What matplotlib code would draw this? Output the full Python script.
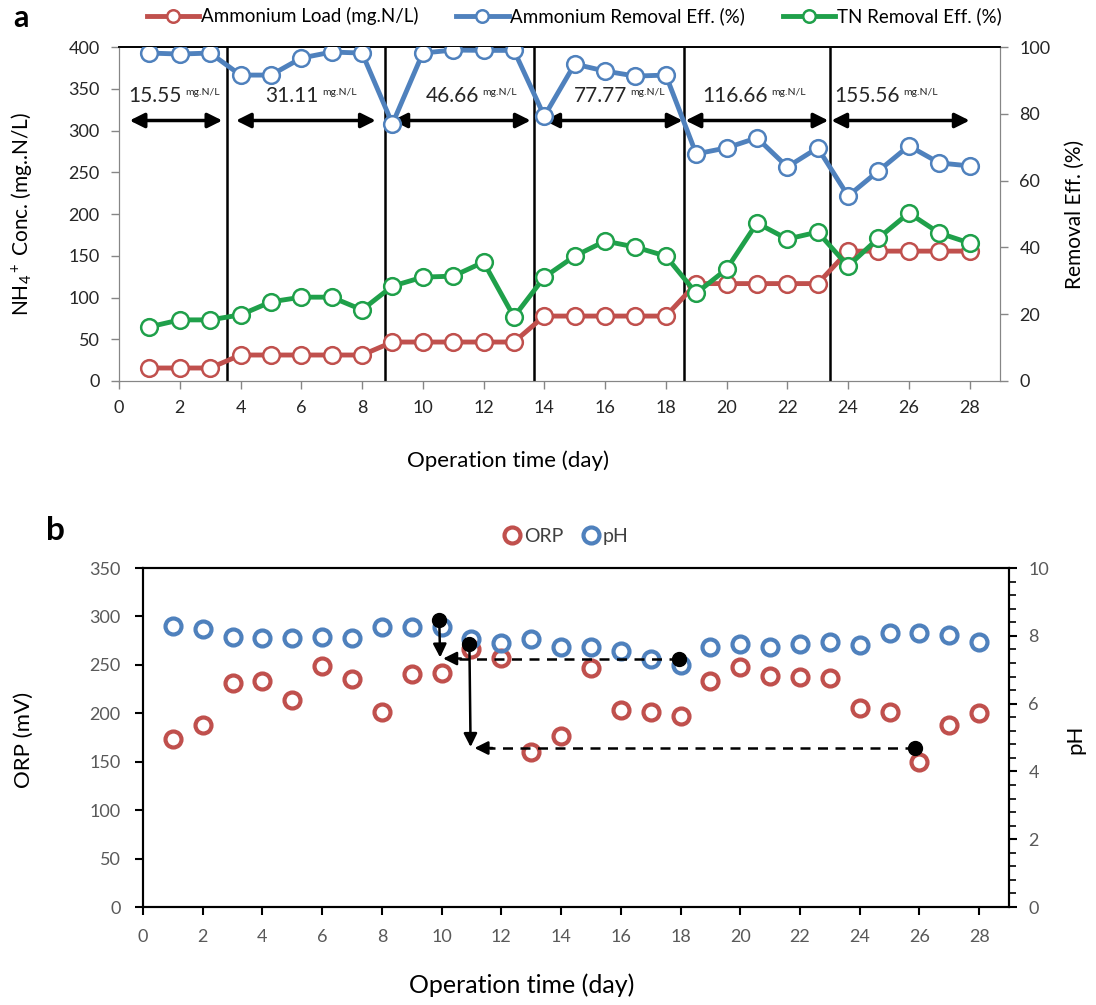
import matplotlib
matplotlib.use("Agg")
import matplotlib.pyplot as plt
from matplotlib.lines import Line2D
from matplotlib.ticker import MultipleLocator

plt.rcParams['font.family'] = ['Lato', 'DejaVu Sans']
plt.rcParams['mathtext.fontset'] = 'custom'
plt.rcParams['mathtext.rm'] = 'Lato'
plt.rcParams['mathtext.it'] = 'Lato:italic'

NARROW = ['Liberation Sans Narrow', 'Lato', 'DejaVu Sans']

# Panel a data
days = list(range(1, 29))
nh4_load = [15.55, 15.55, 15.55,
            31.11, 31.11, 31.11, 31.11, 31.11,
            46.66, 46.66, 46.66, 46.66, 46.66,
            77.77, 77.77, 77.77, 77.77, 77.77,
            116.66, 116.66, 116.66, 116.66, 116.66,
            155.56, 155.56, 155.56, 155.56, 155.56]
nh4_removal = [98.2, 97.9, 98.2, 91.6, 91.6, 96.7, 98.5, 98.2, 77.0, 98.2,
               99.1, 99.0, 99.0, 79.3, 94.9, 92.8, 91.3, 91.6, 68.0, 69.8,
               72.8, 64.1, 69.8, 55.4, 62.9, 70.4, 65.3, 64.4]
tn_removal = [16.2, 18.3, 18.3, 19.8, 23.7, 25.1, 25.1, 21.3, 28.4, 31.1,
              31.4, 35.6, 19.2, 31.1, 37.4, 41.9, 40.1, 37.4, 26.3, 33.5,
              47.3, 42.5, 44.6, 34.4, 42.8, 50.3, 44.3, 41.3]

phase_bounds = [3.55, 8.75, 13.65, 18.6, 23.4]
phase_arrows = [(0.35, 3.4), (3.85, 8.45), (9.0, 13.55), (14.0, 18.55), (18.65, 23.35), (23.45, 28.0)]
phase_labels = ['15.55', '31.11', '46.66', '77.77', '116.66', '155.56']
phase_label_x = [2.07, 6.56, 11.84, 16.72, 21.34, 25.7]

# Panel b data
orp = [173, 188, 231, 233, 214, 249, 235, 201, 241, 242,
       266, 257, 160, 177, 247, 203, 201, 197, 233, 248,
       239, 237, 236, 205, 201, 150, 188, 200]
ph = [8.29, 8.20, 7.96, 7.93, 7.93, 7.96, 7.93, 8.26, 8.26, 8.27,
      7.90, 7.78, 7.91, 7.67, 7.67, 7.55, 7.31, 7.14, 7.66, 7.76,
      7.66, 7.76, 7.82, 7.72, 8.08, 8.08, 8.03, 7.82]

# (start day, start pH) -> (end day, end pH) for the arrows in panel b
drop_arrows = [((9.92, 8.47), (9.95, 7.36)), ((10.93, 7.76), (10.97, 4.72))]
dash_arrows = [((17.95, 7.33), (10.05, 7.33)), ((25.86, 4.69), (11.1, 4.69))]

RED = '#C0504D'
BLUE = '#4F81BD'
GREEN = '#1FA04A'
GRAY = '#868686'

fig = plt.figure(figsize=(10.96, 10.05), dpi=100)

# ---------------- panel a ----------------
axa = fig.add_axes([0.1086, 0.6209, 0.8038, 0.3323])
axr = axa.twinx()

axa.set_xlim(0, 29)
axa.set_ylim(0, 400)
axr.set_ylim(0, 100)
axa.set_xticks(range(0, 29, 2))
axa.set_yticks(range(0, 401, 50))
axr.set_yticks(range(0, 101, 20))

for ax in (axa, axr):
    for side in ('left', 'bottom', 'right'):
        ax.spines[side].set_color(GRAY)
    ax.spines['top'].set_color('black')
    ax.spines['top'].set_linewidth(1.2)
axa.tick_params(axis='both', labelsize=13, colors=GRAY, labelcolor='#262626', length=6, width=1, pad=8)
axr.tick_params(axis='y', labelsize=13, colors=GRAY, labelcolor='#262626', length=6, width=1, pad=8)

axa.vlines(phase_bounds, 0, 400, color='black', lw=1.8, zorder=3)
for (x0, x1) in phase_arrows:
    axa.annotate('', xy=(x1, 312), xytext=(x0, 312),
                 arrowprops=dict(arrowstyle='<|-|>', color='black', lw=2.5,
                                 mutation_scale=22, shrinkA=0, shrinkB=0))
for x, lab in zip(phase_label_x, phase_labels):
    axa.text(x, 334, lab, ha='right', va='baseline', fontsize=15, color='#262626')
    axa.text(x + 0.12, 343, 'mg.N/L', ha='left', va='baseline', fontsize=7.5, color='#262626')

mk = dict(marker='o', ms=12, mfc='white', mew=1.8)
axa.plot(days, nh4_load, color=RED, lw=3.5, mec=RED, zorder=4, **mk)
axr.plot(days, nh4_removal, color=BLUE, lw=3.5, mec=BLUE, zorder=4, **mk)
axr.plot(days, tn_removal, color=GREEN, lw=3.5, mec=GREEN, zorder=4, **mk)

handles_a = [Line2D([], [], color=RED, lw=3.5, mec=RED, **mk),
             Line2D([], [], color=BLUE, lw=3.5, mec=BLUE, **mk),
             Line2D([], [], color=GREEN, lw=3.5, mec=GREEN, **mk)]
for h in handles_a:
    h.set_markersize(9)
fig.legend(handles_a, ['Ammonium Load (mg.N/L)', 'Ammonium Removal Eff. (%)', 'TN Removal Eff. (%)'],
           ncol=3, loc='center', bbox_to_anchor=(0.524, 0.984), frameon=False, fontsize=13.5,
           handlelength=2.8, handletextpad=0.1, columnspacing=2.0)

fig.text(0.020, 0.787, r'NH$_4$$^+$ Conc. (mg..N/L)', rotation=90, ha='center', va='center', fontsize=15)
fig.text(0.981, 0.787, 'Removal Eff. (%)', rotation=90, ha='center', va='center', fontsize=15)
fig.text(0.4635, 0.542, 'Operation time (day)', ha='center', va='center', fontsize=16)
fig.text(0.012, 0.982, 'a', fontsize=22, fontweight='bold', ha='left', va='center')

# ---------------- panel b ----------------
axb = fig.add_axes([0.1305, 0.0975, 0.7901, 0.3373])
axp = axb.twinx()

axb.set_xlim(0, 29)
axb.set_ylim(0, 350)
axp.set_ylim(0, 10)
axb.set_xticks(range(0, 29, 2))
axb.set_yticks(range(0, 351, 50))
axp.set_yticks(range(0, 11, 2))
axp.yaxis.set_minor_locator(MultipleLocator(0.4))

for ax in (axb, axp):
    for side in ('left', 'bottom', 'right', 'top'):
        ax.spines[side].set_color('black')
        ax.spines[side].set_linewidth(1.5)
axb.tick_params(axis='both', length=6, width=1.5, labelsize=13, labelcolor='#595959', pad=10)
axp.tick_params(axis='y', which='major', length=6, width=1.5, labelsize=13, labelcolor='#595959', pad=8)
axp.tick_params(axis='y', which='minor', length=5, width=1.2)
for lab in axb.get_xticklabels() + axb.get_yticklabels() + axp.get_yticklabels():
    lab.set_family(NARROW)

mkb = dict(ls='none', marker='o', ms=11.5, mfc='none', mew=3.0)
axb.plot(days, orp, mec=RED, **mkb)
axp.plot(days, ph, mec=BLUE, **mkb)

for (p0, p1) in drop_arrows:
    axp.plot([p0[0]], [p0[1]], 'o', color='black', ms=10, zorder=6)
    axp.annotate('', xy=p1, xytext=p0,
                 arrowprops=dict(arrowstyle='-|>', color='black', lw=1.8,
                                 mutation_scale=20, shrinkA=0, shrinkB=0), zorder=6)
for (p0, p1) in dash_arrows:
    axp.plot([p0[0]], [p0[1]], 'o', color='black', ms=10, zorder=6)
    axp.plot([p0[0], p1[0] + 0.5], [p0[1], p1[1]], color='black', lw=1.8, ls=(0, (4, 3)), zorder=6)
    axp.annotate('', xy=p1, xytext=(p1[0] + 0.6, p1[1]),
                 arrowprops=dict(arrowstyle='-|>', color='black', lw=1.8,
                                 mutation_scale=20, shrinkA=0, shrinkB=0), zorder=6)

handles_b = [Line2D([], [], mec=RED, **mkb), Line2D([], [], mec=BLUE, **mkb)]
fig.legend(handles_b, ['ORP', 'pH'], ncol=2, loc='center', bbox_to_anchor=(0.515, 0.466),
           frameon=False, handletextpad=0.0, columnspacing=0.8, handlelength=1.2,
           prop={'family': NARROW, 'size': 14}, labelcolor='#404040')

fig.text(0.022, 0.264, 'ORP (mV)', rotation=90, ha='center', va='center', fontsize=16)
fig.text(0.981, 0.264, 'pH', rotation=90, ha='center', va='center', fontsize=16)
fig.text(0.476, 0.0199, 'Operation time (day)', ha='center', va='center', fontsize=18, family=NARROW)
fig.text(0.042, 0.472, 'b', fontsize=24, fontweight='bold', ha='left', va='center')

fig.savefig('out.png', dpi=100)
